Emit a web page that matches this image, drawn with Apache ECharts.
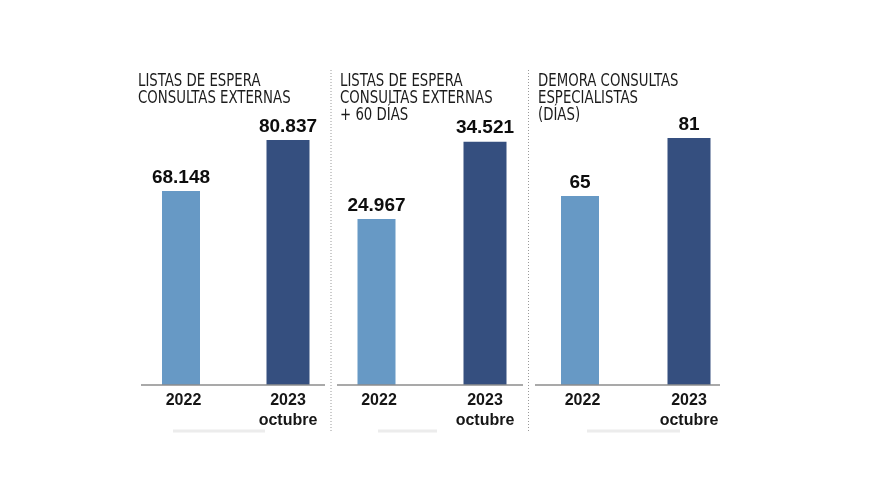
<!DOCTYPE html>
<html><head><meta charset="utf-8">
<script src="https://cdn.jsdelivr.net/npm/echarts@6/dist/echarts.min.js"></script>
<style>html,body{margin:0;padding:0;background:#fff}#c{width:880px;height:495px}</style>
</head><body><div id="c"></div>
<script>
var categories = ['2022', '2023\noctubre'];
var titles = ['LISTAS DE ESPERA\nCONSULTAS EXTERNAS', 'LISTAS DE ESPERA\nCONSULTAS EXTERNAS\n+ 60 DÍAS', 'DEMORA CONSULTAS\nESPECIALISTAS\n(DÍAS)'];
var values2022 = [68148, 24967, 65];
var values2023 = [80837, 34521, 81];

var axisMin = [19890, 4478, 12.9];
var axisMax = [90788, 39672, 91.5];
var gridLeft = [131.25, 326, 529.25];
var gridWidth = [209, 212, 213];
var titleLeft = [138, 340, 538];
var baseX = [[141, 325], [337, 523], [535, 720]];
var shadowX = [[173, 265], [378, 437], [587, 680]];

var light = '#6799c5', dark = '#354f7f';
var fmt = function (v) { return v >= 1000 ? (Math.floor(v / 1000) + '.' + String(v % 1000).padStart(3, '0')) : String(v); };
var narrow = "'Liberation Sans Narrow', 'DejaVu Sans Condensed', 'Liberation Sans', sans-serif";
var boldF = "'Liberation Sans', Arial, sans-serif";

var grids = [], xAxes = [], yAxes = [], series = [], graphics = [];
for (var i = 0; i < 3; i++) {
  grids.push({ left: gridLeft[i], width: gridWidth[i], top: 100, bottom: 110 });
  xAxes.push({
    type: 'category', gridIndex: i, data: categories,
    axisLine: { show: false }, axisTick: { show: false },
    axisLabel: { color: '#161616', fontFamily: boldF, fontWeight: 'bold', fontSize: 16, lineHeight: 19.5, margin: 6 }
  });
  yAxes.push({ type: 'value', gridIndex: i, min: axisMin[i], max: axisMax[i], show: false, splitLine: { show: false } });
  var lbl = { show: true, position: 'top', distance: 4, color: '#0d0d0d', fontFamily: boldF, fontWeight: 'bold', fontSize: 19,
    formatter: function (p) { return fmt(p.value); } };
  series.push({ type: 'bar', xAxisIndex: i, yAxisIndex: i, barWidth: 38, barGap: '-100%',
    data: [values2022[i], '-'], itemStyle: { color: light }, label: lbl, silent: true });
  series.push({ type: 'bar', xAxisIndex: i, yAxisIndex: i, barWidth: 43, barGap: '-100%',
    data: ['-', values2023[i]], itemStyle: { color: dark }, label: lbl, silent: true });
  graphics.push({ type: 'text', x: titleLeft[i], y: 86, originX: titleLeft[i], originY: 86, scaleY: 1.15,
    style: { text: titles[i], font: 'normal 14.8px ' + narrow, lineHeight: 14.8, fill: '#1c1c1c', textVerticalAlign: 'top' } });
  graphics.push({ type: 'line', shape: { x1: baseX[i][0], y1: 385, x2: baseX[i][1], y2: 385 },
    style: { stroke: '#8c8c8c', lineWidth: 1.5 }, z: 10 });
  graphics.push({ type: 'line', shape: { x1: shadowX[i][0], y1: 431, x2: shadowX[i][1], y2: 431 },
    style: { stroke: '#ececec', lineWidth: 3 } });
}
graphics.push({ type: 'line', shape: { x1: 331, y1: 70, x2: 331, y2: 433 }, style: { stroke: '#9a9a9a', lineWidth: 1, lineDash: [1, 2] } });
graphics.push({ type: 'line', shape: { x1: 528.5, y1: 70, x2: 528.5, y2: 431 }, style: { stroke: '#9a9a9a', lineWidth: 1, lineDash: [1, 2] } });

var chart = echarts.init(document.getElementById('c'), null, { renderer: 'canvas' });
chart.setOption({
  animation: false, backgroundColor: '#fff',
  grid: grids, xAxis: xAxes, yAxis: yAxes, series: series, graphic: graphics
});
</script></body></html>
